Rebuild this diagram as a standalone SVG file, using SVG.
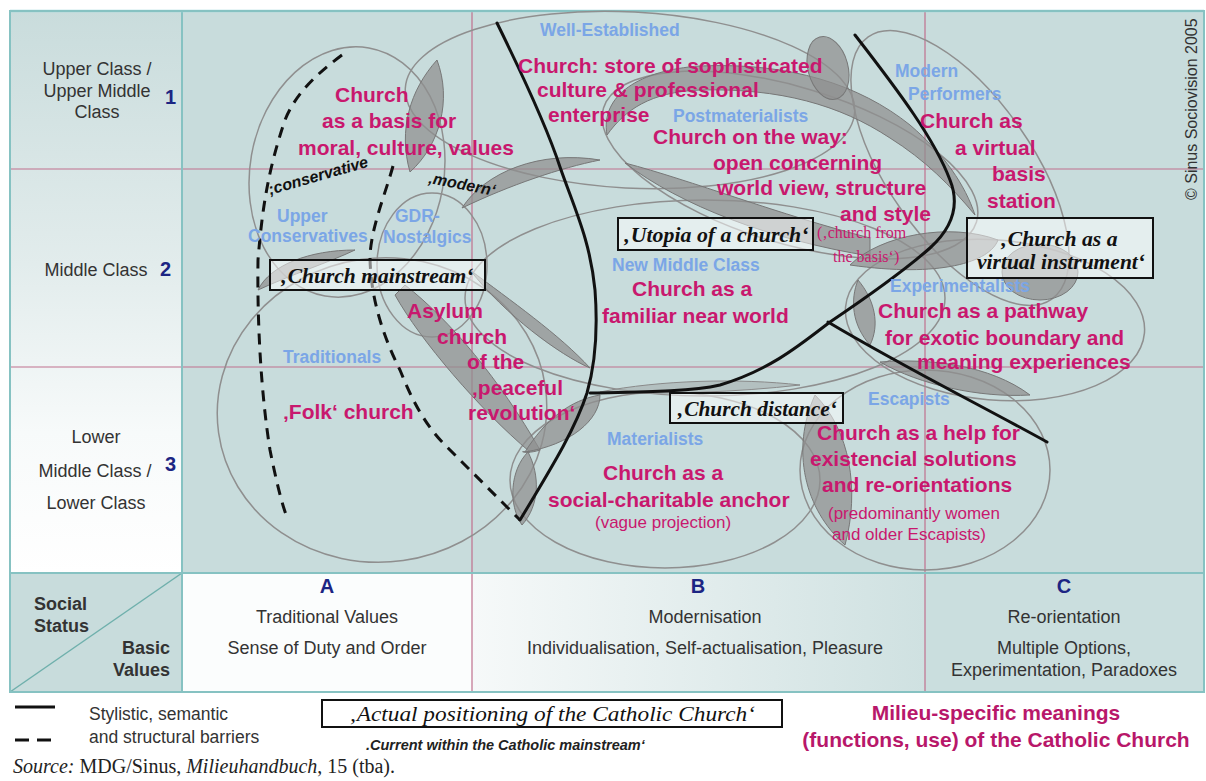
<svg xmlns="http://www.w3.org/2000/svg" width="1206" height="781" viewBox="0 0 1206 781">
  <defs>
    <linearGradient id="leftCol" x1="0" y1="0" x2="0" y2="1">
      <stop offset="0" stop-color="#c9dcdc"/>
      <stop offset="0.45" stop-color="#e2ecec"/>
      <stop offset="0.75" stop-color="#f7fafa"/>
      <stop offset="1" stop-color="#ffffff"/>
    </linearGradient>
    <linearGradient id="colB" x1="0" y1="0" x2="1" y2="0">
      <stop offset="0" stop-color="#f6f9f9"/>
      <stop offset="1" stop-color="#cfe1e1"/>
    </linearGradient>
    <style>
      .grid{stroke:#c0708e;stroke-width:1.2;fill:none}
      .frame{stroke:#86c2c2;stroke-width:2;fill:none}
      .milieu{fill:none;stroke:#8f8f8f;stroke-width:1.5}
      .overlap{fill:#8f8f8f;fill-opacity:.72;stroke:#777;stroke-width:1}
      .overlap-light{fill:#a5adad;fill-opacity:.6;stroke:#8a8a8a;stroke-width:1}
      .barrier{fill:none;stroke:#111;stroke-width:3;stroke-linecap:round;stroke-linejoin:round}
      .dashed{fill:none;stroke:#111;stroke-width:3;stroke-dasharray:11 8}
      .meaning{font-family:"Liberation Sans",Arial,sans-serif;font-weight:bold;font-size:21px;fill:#c8186e}
      .meaning-small{font-family:"Liberation Sans",Arial,sans-serif;font-size:17px;fill:#c8186e}
      .meaning-serif{font-family:"Liberation Serif","Times New Roman",serif;font-size:16px;fill:#c8186e}
      .milieu-name{font-family:"Liberation Sans",Arial,sans-serif;font-weight:bold;font-size:17.5px;fill:#7ba6e6}
      .axis{font-family:"Liberation Sans",Arial,sans-serif;font-size:18px;fill:#333}
      .axis-b{font-family:"Liberation Sans",Arial,sans-serif;font-size:18px;font-weight:bold;fill:#333}
      .num{font-family:"Liberation Sans",Arial,sans-serif;font-size:20px;font-weight:bold;fill:#1c2583}
      .tilt{font-family:"Liberation Sans",Arial,sans-serif;font-size:16px;font-weight:bold;font-style:italic;fill:#111}
      .box{fill:#ffffff;fill-opacity:.5;stroke:#111;stroke-width:2}
      .box-text{font-family:"Liberation Serif","Times New Roman",serif;font-size:21px;font-weight:bold;font-style:italic;fill:#111}
      .legend-text{font-family:"Liberation Sans",Arial,sans-serif;font-size:17.5px;fill:#333}
    </style>
  </defs>

  <rect width="1206" height="781" fill="#ffffff"/>

  <!-- chart field -->
  <g id="field">
    <rect x="182" y="11" width="1022" height="562" fill="#c8dcdc"/>
    <rect x="10" y="11" width="172" height="562" fill="url(#leftCol)"/>
    <line class="grid" x1="10" y1="169" x2="1204" y2="169"/>
    <line class="grid" x1="10" y1="367" x2="1204" y2="367"/>
    <line class="grid" x1="472" y1="11" x2="472" y2="692"/>
    <line class="grid" x1="925" y1="11" x2="925" y2="692"/>
    <line class="frame" x1="182" y1="11" x2="182" y2="692"/>
    <line x1="10" y1="11" x2="1204" y2="11" stroke="#9ed6da" stroke-width="2.5"/>
  </g>

  <!-- basic values panel -->
  <g id="values-panel">
    <polygon points="10,573 182,573 182,692 10,692" fill="#c8dcdc"/>
    <rect x="182" y="573" width="290" height="119" fill="#fbfdfd"/>
    <rect x="472" y="573" width="453" height="119" fill="url(#colB)"/>
    <rect x="925" y="573" width="279" height="119" fill="#cadede"/>
    <line x1="472" y1="573" x2="472" y2="692" class="grid"/>
    <line x1="925" y1="573" x2="925" y2="692" class="grid"/>
    <line x1="10" y1="692" x2="182" y2="573" stroke="#6fb0ac" stroke-width="1.5"/>
    <line class="frame" x1="10" y1="573" x2="1204" y2="573"/>
    <rect class="frame" x="10" y="11" width="1194" height="681"/>
    <line class="frame" x1="182" y1="573" x2="182" y2="692"/>
  </g>

  <!-- milieu outlines -->
  <g id="milieu-outlines">
    <ellipse class="milieu" cx="347" cy="172" rx="97" ry="126" transform="rotate(10 347 172)"/>
    <ellipse class="milieu" cx="630" cy="100" rx="225" ry="88" transform="rotate(3 630 100)"/>
    <ellipse class="milieu" cx="960" cy="168" rx="160" ry="72" transform="rotate(55 960 168)"/>
    <ellipse class="milieu" cx="790" cy="165" rx="195" ry="78" transform="rotate(17 790 165)"/>
    <ellipse class="milieu" cx="705" cy="298" rx="240" ry="98"/>
    <ellipse class="milieu" cx="432" cy="265" rx="55" ry="72"/>
    <ellipse class="milieu" cx="382" cy="410" rx="165" ry="152" transform="rotate(-8 382 410)"/>
    <ellipse class="milieu" cx="665" cy="480" rx="155" ry="88"/>
    <ellipse class="milieu" cx="995" cy="320" rx="150" ry="80" transform="rotate(5 995 320)"/>
    <ellipse class="milieu" cx="925" cy="470" rx="125" ry="100"/>
  </g>

  <!-- overlap zones between neighbouring milieus -->
  <g id="overlaps">
    <path class="overlap" d="M437,60 C452,100 440,145 410,172 C398,130 410,90 437,60 Z"/>
    <path class="overlap" d="M462,208 C485,172 540,150 600,160 C560,168 510,185 462,208 Z"/>
    <path class="overlap" d="M607,135 C600,95 640,70 700,66 C790,62 860,85 910,125 C945,155 965,185 975,215 C950,185 925,160 890,138 C840,105 780,88 700,90 C650,92 625,110 607,135 Z"/>
    <ellipse class="overlap" cx="828" cy="68" rx="20" ry="32" transform="rotate(-15 828 68)"/>
    <path class="overlap" d="M625,163 C690,180 780,215 870,238 L870,256 C770,240 680,205 625,163 Z"/>
    <path class="overlap" d="M850,265 C880,235 950,222 998,240 C990,262 940,278 850,265 Z"/>
    <ellipse class="overlap" cx="1040" cy="272" rx="38" ry="28"/>
    <path class="overlap" d="M858,280 C875,300 880,325 870,345 C852,325 850,300 858,280 Z"/>
    <path class="overlap" d="M880,362 C930,358 990,365 1030,395 C980,398 920,385 880,362 Z"/>
    <path class="overlap" d="M815,395 C850,430 860,490 845,545 C805,510 790,450 815,395 Z"/>
    <path class="overlap" d="M405,285 C450,320 500,380 540,450 C525,455 515,450 530,452 C480,410 420,340 395,295 Z"/>
    <path class="overlap" d="M470,270 C510,300 560,335 590,368 C560,355 505,315 470,270 Z"/>
    <path class="overlap" d="M525,452 C545,420 570,400 600,395 C600,420 570,445 525,452 Z"/>
    <path class="overlap" d="M528,452 C540,475 540,505 522,525 C508,505 510,470 528,452 Z"/>
    <path class="overlap" d="M258,290 C270,265 310,250 355,250 C330,262 290,275 258,290 Z"/>
    <path class="overlap-light" d="M600,392 C660,380 740,378 800,385 C740,392 660,395 600,392 Z"/>
  </g>

  <!-- barriers between milieus -->
  <g id="connectors">
    <path class="barrier" d="M497,23 C525,80 548,130 560,167 C575,210 590,240 595,290 C598,330 595,365 587,393 C575,430 550,470 520,520"/>
    <path class="barrier" d="M590,393 C640,392 690,392 720,385 C770,370 800,345 830,322 C870,295 905,270 930,248 C952,228 960,205 950,180 C935,140 900,93 855,35"/>
    <path class="barrier" d="M828,322 C900,365 980,405 1047,442"/>
    <path class="dashed" d="M342,55 C315,75 295,95 285,120 C268,170 262,210 258,260 C257,330 262,400 270,450 C276,480 282,505 288,520"/>
    <path class="dashed" d="M393,166 C385,195 372,225 370,255 C370,300 385,340 400,370 C412,400 425,425 445,445 C470,470 495,495 520,520"/>
  </g>

  <!-- social status axis -->
  <g id="status-axis">
    <text class="axis" x="97" y="75" text-anchor="middle">Upper Class /</text>
    <text class="axis" x="97" y="97" text-anchor="middle">Upper Middle</text>
    <text class="axis" x="97" y="118" text-anchor="middle">Class</text>
    <text class="num" x="165" y="104">1</text>
    <text class="axis" x="96" y="276" text-anchor="middle">Middle Class</text>
    <text class="num" x="160" y="276">2</text>
    <text class="axis" x="96" y="443" text-anchor="middle">Lower</text>
    <text class="axis" x="95" y="477" text-anchor="middle">Middle Class /</text>
    <text class="num" x="165" y="471">3</text>
    <text class="axis" x="96" y="509" text-anchor="middle">Lower Class</text>
  </g>

  <!-- basic values axis -->
  <g id="values-axis">
    <text class="axis-b" x="34" y="610">Social</text>
    <text class="axis-b" x="34" y="632">Status</text>
    <text class="axis-b" x="170" y="654" text-anchor="end">Basic</text>
    <text class="axis-b" x="170" y="676" text-anchor="end">Values</text>
    <text class="num" x="327" y="593" text-anchor="middle">A</text>
    <text class="axis" x="327" y="623" text-anchor="middle">Traditional Values</text>
    <text class="axis" x="327" y="654" text-anchor="middle">Sense of Duty and Order</text>
    <text class="num" x="698" y="593" text-anchor="middle">B</text>
    <text class="axis" x="705" y="623" text-anchor="middle">Modernisation</text>
    <text class="axis" x="705" y="654" text-anchor="middle">Individualisation, Self-actualisation, Pleasure</text>
    <text class="num" x="1064" y="593" text-anchor="middle">C</text>
    <text class="axis" x="1064" y="623" text-anchor="middle">Re-orientation</text>
    <text class="axis" x="1064" y="654" text-anchor="middle">Multiple Options,</text>
    <text class="axis" x="1064" y="676" text-anchor="middle">Experimentation, Paradoxes</text>
  </g>

  <!-- milieus with their meanings -->
  <g id="upper-conservatives">
    <text class="milieu-name" x="277" y="222">Upper</text>
    <text class="milieu-name" x="248" y="242">Conservatives</text>
    <text class="meaning" x="335" y="102">Church</text>
    <text class="meaning" x="322" y="128">as a basis for</text>
    <text class="meaning" x="298" y="155">moral, culture, values</text>
  </g>
  <g id="well-established">
    <text class="milieu-name" x="540" y="36">Well-Established</text>
    <text class="meaning" x="518" y="73" font-size="21.5">Church: store of sophisticated</text>
    <text class="meaning" x="537" y="97">culture &amp; professional</text>
    <text class="meaning" x="548" y="122">enterprise</text>
  </g>
  <g id="postmaterialists">
    <text class="milieu-name" x="673" y="122">Postmaterialists</text>
    <text class="meaning" x="653" y="144">Church on the way:</text>
    <text class="meaning" x="713" y="170">open concerning</text>
    <text class="meaning" x="717" y="195">world view, structure</text>
    <text class="meaning" x="840" y="221">and style</text>
    <text class="meaning-serif" x="817" y="238">(‚church from</text>
    <text class="meaning-serif" x="833" y="262">the basis‘)</text>
  </g>
  <g id="modern-performers">
    <text class="milieu-name" x="895" y="77">Modern</text>
    <text class="milieu-name" x="908" y="100">Performers</text>
    <text class="meaning" x="920" y="128">Church as</text>
    <text class="meaning" x="955" y="155">a virtual</text>
    <text class="meaning" x="992" y="181">basis</text>
    <text class="meaning" x="987" y="208">station</text>
  </g>
  <g id="gdr-nostalgics">
    <text class="milieu-name" x="395" y="222">GDR-</text>
    <text class="milieu-name" x="383" y="243">Nostalgics</text>
    <text class="meaning" x="407" y="318">Asylum</text>
    <text class="meaning" x="437" y="344">church</text>
    <text class="meaning" x="467" y="369">of the</text>
    <text class="meaning" x="472" y="395">‚peaceful</text>
    <text class="meaning" x="468" y="420">revolution‘</text>
  </g>
  <g id="new-middle-class">
    <text class="milieu-name" x="612" y="271">New Middle Class</text>
    <text class="meaning" x="632" y="296">Church as a</text>
    <text class="meaning" x="602" y="323">familiar near world</text>
  </g>
  <g id="traditionals">
    <text class="milieu-name" x="283" y="363">Traditionals</text>
    <text class="meaning" x="283" y="419">‚Folk‘ church</text>
  </g>
  <g id="materialists">
    <text class="milieu-name" x="607" y="445">Materialists</text>
    <text class="meaning" x="603" y="480">Church as a</text>
    <text class="meaning" x="548" y="507">social-charitable anchor</text>
    <text class="meaning-small" x="595" y="528">(vague projection)</text>
  </g>
  <g id="experimentalists">
    <text class="milieu-name" x="890" y="292">Experimentalists</text>
    <text class="meaning" x="878" y="318">Church as a pathway</text>
    <text class="meaning" x="885" y="345">for exotic boundary and</text>
    <text class="meaning" x="917" y="369">meaning experiences</text>
  </g>
  <g id="escapists">
    <text class="milieu-name" x="868" y="405">Escapists</text>
    <text class="meaning" x="817" y="440">Church as a help for</text>
    <text class="meaning" x="810" y="466">existencial solutions</text>
    <text class="meaning" x="822" y="492">and re-orientations</text>
    <text class="meaning-small" x="828" y="519">(predominantly women</text>
    <text class="meaning-small" x="832" y="540">and older Escapists)</text>
  </g>

  <!-- mainstream currents -->
  <g id="currents">
    <text class="tilt" x="270" y="195" transform="rotate(-16 270 195)">;conservative</text>
    <text class="tilt" x="428" y="183" transform="rotate(11 428 183)">‚modern‘</text>
  </g>

  <!-- positioning of the church -->
  <g id="box-mainstream">
    <rect class="box" x="270" y="260" width="215" height="30"/>
    <text class="box-text" x="377" y="283" text-anchor="middle" textLength="193" lengthAdjust="spacingAndGlyphs">‚Church mainstream‘</text>
  </g>
  <g id="box-utopia">
    <rect class="box" x="618" y="218" width="195" height="32"/>
    <text class="box-text" x="716" y="242" text-anchor="middle" textLength="185" lengthAdjust="spacingAndGlyphs">‚Utopia of a church‘</text>
  </g>
  <g id="box-virtual">
    <rect class="box" x="967" y="218" width="186" height="60"/>
    <text class="box-text" x="1059" y="246" text-anchor="middle" textLength="117" lengthAdjust="spacingAndGlyphs">‚Church as a</text>
    <text class="box-text" x="1061" y="269" text-anchor="middle" font-size="18" textLength="168" lengthAdjust="spacingAndGlyphs">virtual instrument‘</text>
  </g>
  <g id="box-distance">
    <rect class="box" x="670" y="393" width="173" height="30"/>
    <text class="box-text" x="757" y="416" text-anchor="middle" textLength="160" lengthAdjust="spacingAndGlyphs">‚Church distance‘</text>
  </g>

  <text x="1197" y="200" transform="rotate(-90 1197 200)" font-family="'Liberation Sans',Arial,sans-serif" font-size="16" fill="#333">© Sinus Sociovision 2005</text>

  <!-- legend -->
  <g id="legend">
    <line x1="15" y1="707" x2="55" y2="707" stroke="#111" stroke-width="3"/>
    <line x1="15" y1="740" x2="29" y2="740" stroke="#111" stroke-width="3"/>
    <line x1="37" y1="740" x2="51" y2="740" stroke="#111" stroke-width="3"/>
    <text class="legend-text" x="89" y="720">Stylistic, semantic</text>
    <text class="legend-text" x="89" y="743">and structural barriers</text>
    <rect x="322" y="700" width="460" height="27" fill="#fff" stroke="#111" stroke-width="2"/>
    <text x="552" y="721" text-anchor="middle" font-family="'Liberation Serif','Times New Roman',serif" font-size="22" font-style="italic" fill="#111" textLength="406" lengthAdjust="spacingAndGlyphs">‚Actual positioning of the Catholic Church‘</text>
    <text x="366" y="750" font-family="'Liberation Sans',Arial,sans-serif" font-size="14.5" font-weight="bold" font-style="italic" fill="#222">.Current within the Catholic mainstream‘</text>
    <text x="996" y="720" text-anchor="middle" font-family="'Liberation Sans',Arial,sans-serif" font-size="21" font-weight="bold" fill="#b8176a">Milieu-specific meanings</text>
    <text x="996" y="747" text-anchor="middle" font-family="'Liberation Sans',Arial,sans-serif" font-size="21" font-weight="bold" fill="#b8176a">(functions, use) of the Catholic Church</text>
    <text x="13" y="773" font-family="'Liberation Serif','Times New Roman',serif" font-size="20" fill="#222"><tspan font-style="italic">Source:</tspan> MDG/Sinus, <tspan font-style="italic">Milieuhandbuch</tspan>, 15 (tba).</text>
  </g>
</svg>
